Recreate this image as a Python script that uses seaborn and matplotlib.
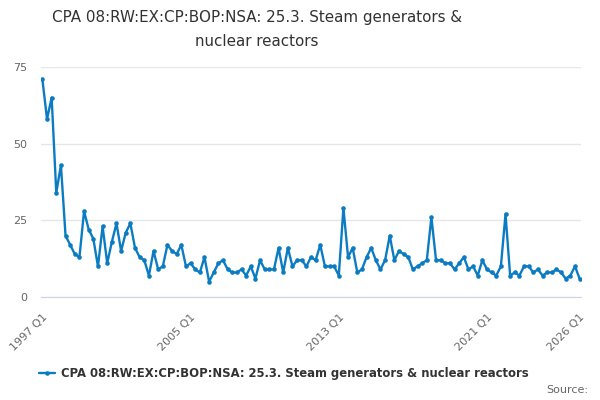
import numpy as np
import pandas as pd
import seaborn as sns
import matplotlib
matplotlib.use('Agg')
import matplotlib.pyplot as plt

# quarterly values 1997 Q1 .. 2026 Q1
values = [71, 58, 65, 34, 43, 20, 17, 14, 13, 28,
          22, 19, 10, 23, 11, 18, 24, 15, 21, 24,
          16, 13, 12, 7, 15, 9, 10, 17, 15, 14,
          17, 10, 11, 9, 8, 13, 5, 8, 11, 12,
          9, 8, 8, 9, 7, 10, 6, 12, 9, 9,
          9, 16, 8, 16, 10, 12, 12, 10, 13, 12,
          17, 10, 10, 10, 7, 29, 13, 16, 8, 9,
          13, 16, 12, 9, 12, 20, 12, 15, 14, 13,
          9, 10, 11, 12, 26, 12, 12, 11, 11, 9,
          11, 13, 9, 10, 7, 12, 9, 8, 7, 10,
          27, 7, 8, 7, 10, 10, 8, 9, 7, 8,
          8, 9, 8, 6, 7, 10, 6]
quarters = [f"{1997 + i // 4} Q{i % 4 + 1}" for i in range(len(values))]
label_quarters = ["1997 Q1", "2005 Q1", "2013 Q1", "2021 Q1", "2026 Q1"]
y_ticks = [0, 25, 50, 75]
series_name = "CPA 08:RW:EX:CP:BOP:NSA: 25.3. Steam generators & nuclear reactors"
title = "CPA 08:RW:EX:CP:BOP:NSA: 25.3. Steam generators &\nnuclear reactors"

df = pd.DataFrame({'idx': range(len(values)), 'quarter': quarters, 'value': values})

sns.set_style('white')
plt.rcParams['font.family'] = ['DejaVu Sans']

line_col = '#0c7cc2'
fig = plt.figure(figsize=(6, 4), dpi=100)
ax = fig.add_axes([41/600, 103/400, 540/600, 230/400])

sns.lineplot(data=df, x='idx', y='value', ax=ax, color=line_col, linewidth=1.7,
             marker='o', markersize=3.3, markeredgewidth=0, label=series_name)

ax.set_ylim(0, 75)
ax.set_xlim(-0.3, len(values) - 0.7)
ax.set_yticks(y_ticks)
ax.yaxis.grid(True, color='#e6e6e6', linewidth=1)
ax.set_axisbelow(True)
ax.tick_params(axis='y', length=0, labelsize=8, labelcolor='#666666', pad=10)

# x ticks every 8 quarters plus the last one
tick_pos = list(range(0, 105, 8)) + [len(values) - 1]
ax.set_xticks(tick_pos)
ax.set_xticklabels([q if q in label_quarters else '' for q in df['quarter'].iloc[tick_pos]],
                   rotation=45, ha='right', rotation_mode='anchor')
ax.tick_params(axis='x', length=9, width=1, color='#ccd6eb', labelsize=8,
               labelcolor='#666666', pad=2)

for s in ['top', 'right', 'left']:
    ax.spines[s].set_visible(False)
ax.spines['bottom'].set_color('#ccd6eb')
ax.set_xlabel('')
ax.set_ylabel('')

fig.text(257/600, 1 - 10/400, title, ha='center', va='top', fontsize=10.9,
         color='#333333', linespacing=1.75)

leg = ax.legend(loc='upper left', bbox_to_anchor=(-0.012, -0.285), frameon=False,
                handlelength=1.4, handletextpad=0.5, borderaxespad=0,
                prop={'weight': 'bold', 'size': 8.35})
for t in leg.get_texts():
    t.set_color('#333333')

fig.text(588/600, 1 - 390/400, 'Source:', ha='right', va='center', fontsize=8,
         color='#666666')

fig.savefig('out.png', dpi=100)
